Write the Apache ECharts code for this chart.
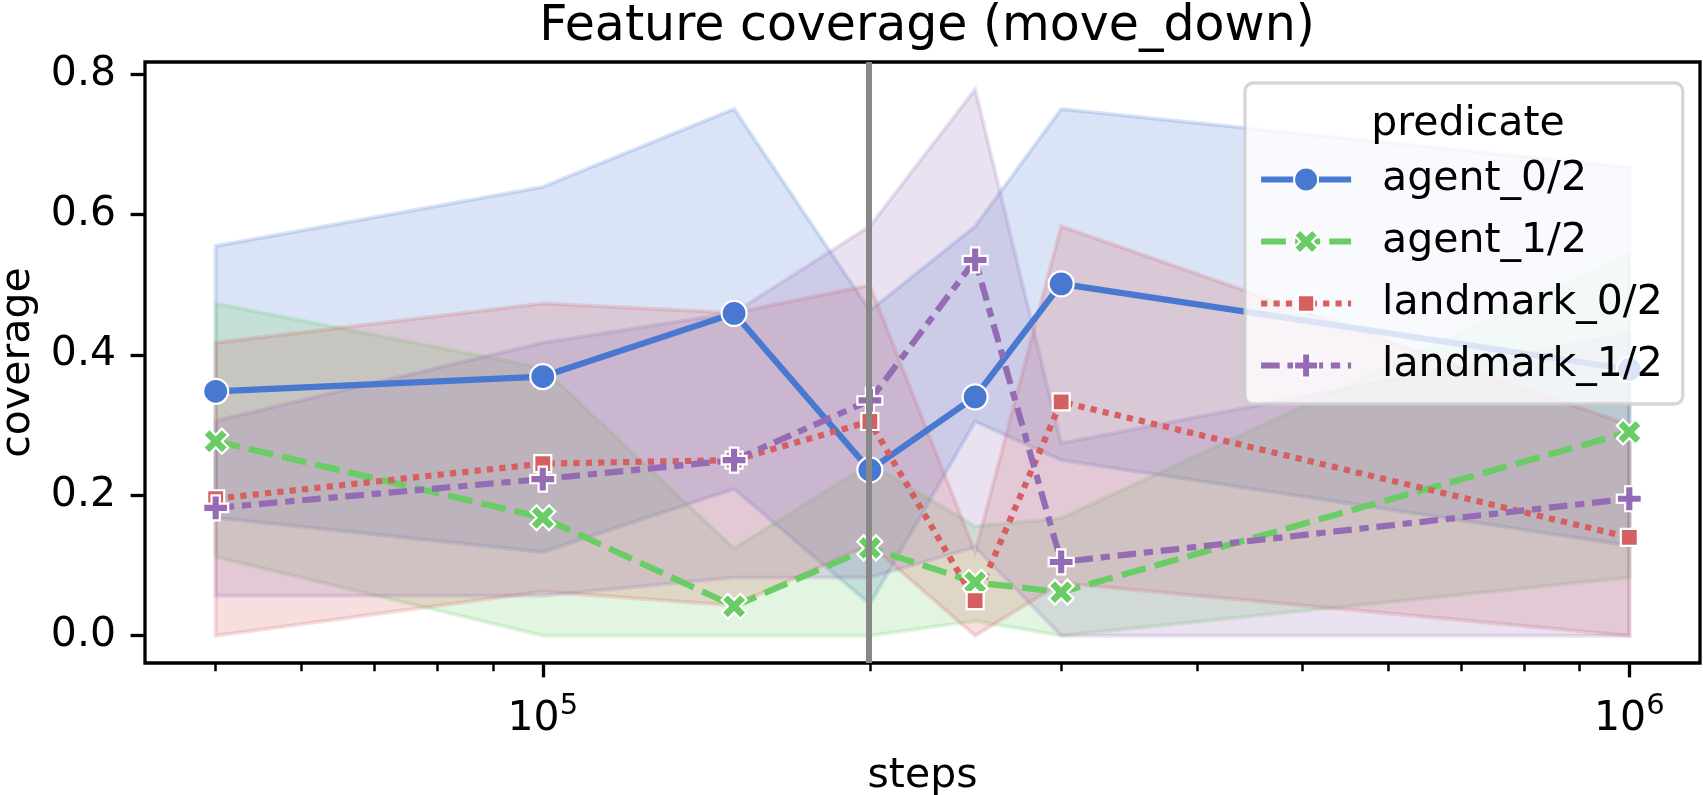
<!DOCTYPE html>
<html>
<head>
<meta charset="utf-8">
<title>Feature coverage (move_down)</title>
<script src="https://cdn.jsdelivr.net/npm/echarts@6/dist/echarts.min.js"></script>
<style>
    html, body { margin: 0; padding: 0; background: #fff; }
    #chart { width: 1703px; height: 795px; }
</style>
</head>
<body>
<div id="chart"></div>
<script>
// x values (training steps), log scale
const steps = [50000, 100000, 150000, 200000, 250000, 300000, 1000000];

// mean coverage per predicate
const agent0 = [0.348, 0.369, 0.459, 0.236, 0.340, 0.501, 0.379];
const agent1 = [0.277, 0.168, 0.042, 0.125, 0.076, 0.062, 0.290];
const landmark0 = [0.195, 0.245, 0.250, 0.305, 0.050, 0.333, 0.140];
const landmark1 = [0.182, 0.223, 0.250, 0.335, 0.535, 0.105, 0.195];

// confidence bands (lower / upper)
const agent0Lo = [0.168, 0.119, 0.209, 0.045, 0.305, 0.250, 0.128];
const agent0Hi = [0.555, 0.639, 0.750, 0.463, 0.583, 0.750, 0.667];
const agent1Lo = [0.112, 0.000, 0.000, 0.000, 0.021, 0.000, 0.083];
const agent1Hi = [0.473, 0.381, 0.124, 0.245, 0.156, 0.167, 0.542];
const landmark0Lo = [0.000, 0.063, 0.043, 0.130, 0.000, 0.075, 0.000];
const landmark0Hi = [0.417, 0.473, 0.460, 0.499, 0.119, 0.583, 0.300];
const landmark1Lo = [0.057, 0.057, 0.083, 0.083, 0.126, 0.000, 0.000];
const landmark1Hi = [0.306, 0.417, 0.460, 0.583, 0.778, 0.274, 0.430];

// tick labels / positions
const yTicks = [0, 0.2, 0.4, 0.6, 0.8];
const xMajorTicks = [100000, 1000000];
const xMinorTicks = [50000, 60000, 70000, 80000, 90000, 200000, 300000, 400000,
    500000, 600000, 700000, 800000, 900000];
const vlineSteps = [200000];

const FONT = 'DejaVu Sans';
const lw = 6.2;   // line width

const log10 = (v) => Math.log10(v);

// matplotlib style 5% margins
const xLogs = steps.map(log10);
const xSpan = Math.max(...xLogs) - Math.min(...xLogs);
const xMin = Math.min(...xLogs) - xSpan * 0.05;
const xMax = Math.max(...xLogs) + xSpan * 0.05;
const allLo = [].concat(agent0Lo, agent1Lo, landmark0Lo, landmark1Lo);
const allHi = [].concat(agent0Hi, agent1Hi, landmark0Hi, landmark1Hi);
const ySpan = Math.max(...allHi) - Math.min(...allLo);
const yMin = Math.min(...allLo) - ySpan * 0.05;
const yMax = Math.max(...allHi) + ySpan * 0.05;

const chart = echarts.init(document.getElementById('chart'));

function rgba(hex, a) {
    const n = parseInt(hex.slice(1), 16);
    return 'rgba(' + (n >> 16) + ',' + ((n >> 8) & 255) + ',' + (n & 255) + ',' + a + ')';
}

/**
 * 置信区间带 (custom polygon)
 */
function bandSeries(name, color, lo, hi) {
    return {
        type: 'custom',
        name: name + ' band',
        silent: true,
        z: 1,
        data: steps.map((s, i) => [log10(s), lo[i], hi[i]]),
        encode: { x: 0, y: [1, 2] },
        renderItem: function (params, api) {
            if (params.dataIndex !== 0) {
                return null;
            }
            const pts = [];
            for (let i = 0; i < steps.length; i++) {
                pts.push(api.coord([log10(steps[i]), hi[i]]));
            }
            for (let i = steps.length - 1; i >= 0; i--) {
                pts.push(api.coord([log10(steps[i]), lo[i]]));
            }
            return {
                type: 'polygon',
                shape: { points: pts },
                style: { fill: rgba(color, 0.2), stroke: rgba(color, 0.2), lineWidth: 4 }
            };
        }
    };
}

function lineSeries(name, color, values, symbol, size, dash) {
    return {
        name: name,
        type: 'line',
        z: 3,
        data: steps.map((s, i) => [log10(s), values[i]]),
        symbol: symbol,
        symbolSize: size,
        showAllSymbol: true,
        lineStyle: { color: color, width: lw, type: dash },
        itemStyle: { color: color, borderColor: '#ffffff', borderWidth: 2.2 },
        emphasis: { disabled: true }
    };
}

const blue = '#4878d0', green = '#6acc64', red = '#d65f5f', purple = '#956cb4';

const SYM_X = 'path://M1,0L2,1L3,0L4,1L3,2L4,3L3,4L2,3L1,4L0,3L1,2L0,1Z';
const SYM_P = 'path://M2,0H4V2H6V4H4V6H2V4H0V2H2Z';
const SYM_S = 'path://M0,0L0,0M25,25L25,25M4,4H21V21H4Z';

const option = {
    animation: false,
    backgroundColor: '#ffffff',
    title: [
        {
            text: 'Feature coverage (move_down)',
            left: 922,
            top: -2,
            textAlign: 'center',
            textStyle: { fontFamily: FONT, fontSize: 49, fontWeight: 'normal', color: '#000', lineHeight: 49 }
        },
        {
            text: 'predicate',
            left: 1463,
            top: 99,
            textAlign: 'center',
            textStyle: { fontFamily: FONT, fontSize: 41, fontWeight: 'normal', color: '#000', lineHeight: 41 }
        }
    ],
    legend: {
        data: ['agent_0/2', 'agent_1/2', 'landmark_0/2', 'landmark_1/2'],
        orient: 'vertical',
        left: 1245,
        top: 83,
        padding: [76, 20, 18, 13],
        itemWidth: 90,
        itemHeight: 30,
        itemGap: 21,
        selectedMode: false,
        backgroundColor: 'rgba(255,255,255,0.8)',
        borderColor: 'rgba(204,204,204,0.8)',
        borderWidth: 3.3,
        borderRadius: 8,
        lineStyle: { width: lw },
        textStyle: { fontFamily: FONT, fontSize: 41, color: '#000', lineHeight: 41, padding: [0, 0, 0, 26] }
    },
    grid: {
        left: 145,
        top: 62,
        right: 3,
        bottom: 132,
        outerBoundsMode: 'none',
        containLabel: false,
        show: true,
        borderColor: '#000',
        borderWidth: 3.3,
        backgroundColor: 'transparent'
    },
    xAxis: [
        {
            type: 'value',
            min: xMin,
            max: xMax,
            position: 'bottom',
            name: 'steps',
            nameLocation: 'middle',
            nameGap: 93,
            nameTextStyle: { fontFamily: FONT, fontSize: 41, color: '#000' },
            axisLine: { show: false, onZero: false },
            splitLine: { show: false },
            axisTick: {
                customValues: xMajorTicks.map(log10),
                length: 14.4,
                lineStyle: { color: '#000', width: 3.3 }
            },
            axisLabel: {
                customValues: xMajorTicks.map(log10),
                margin: 29,
                formatter: (v) => '{b|10}{s|' + Math.round(v) + '}',
                rich: {
                    b: { fontFamily: FONT, fontSize: 41, color: '#000', verticalAlign: 'bottom', lineHeight: 48 },
                    s: { fontFamily: FONT, fontSize: 29, color: '#000', verticalAlign: 'top', lineHeight: 30 }
                }
            }
        },
        {
            type: 'value',
            min: xMin,
            max: xMax,
            position: 'bottom',
            axisLine: { show: false, onZero: false },
            splitLine: { show: false },
            axisTick: {
                customValues: xMinorTicks.map(log10),
                length: 8.2,
                lineStyle: { color: '#000', width: 2.5 }
            },
            axisLabel: { show: false }
        }
    ],
    yAxis: {
        type: 'value',
        min: yMin,
        max: yMax,
        name: 'coverage',
        nameLocation: 'middle',
        nameGap: 106,
        nameTextStyle: { fontFamily: FONT, fontSize: 41, color: '#000' },
        axisLine: { show: false, onZero: false },
        splitLine: { show: false },
        axisTick: {
            customValues: yTicks,
            length: 14.4,
            lineStyle: { color: '#000', width: 3.3 }
        },
        axisLabel: {
            customValues: yTicks,
            margin: 29,
            formatter: (v) => v.toFixed(1),
            fontFamily: FONT,
            fontSize: 41,
            color: '#000'
        }
    },
    series: [
        bandSeries('agent_0/2', blue, agent0Lo, agent0Hi),
        bandSeries('agent_1/2', green, agent1Lo, agent1Hi),
        bandSeries('landmark_0/2', red, landmark0Lo, landmark0Hi),
        bandSeries('landmark_1/2', purple, landmark1Lo, landmark1Hi),
        lineSeries('agent_0/2', blue, agent0, 'circle', 25, 'solid'),
        lineSeries('agent_1/2', green, agent1, SYM_X, 25, [4 * lw, 1.5 * lw]),
        lineSeries('landmark_0/2', red, landmark0, SYM_S, 25, [lw, lw]),
        lineSeries('landmark_1/2', purple, landmark1, SYM_P, 25, [3 * lw, 1.25 * lw, 1.5 * lw, 1.25 * lw]),
        {
            // vertical marker line
            type: 'line',
            name: 'vline',
            z: 5,
            data: [],
            markLine: {
                silent: true,
                symbol: ['none', 'none'],
                label: { show: false },
                lineStyle: { color: '#888888', width: 6, type: 'solid' },
                data: vlineSteps.map((s) => ({ xAxis: log10(s) }))
            }
        }
    ]
};

chart.setOption(option);
</script>
</body>
</html>
